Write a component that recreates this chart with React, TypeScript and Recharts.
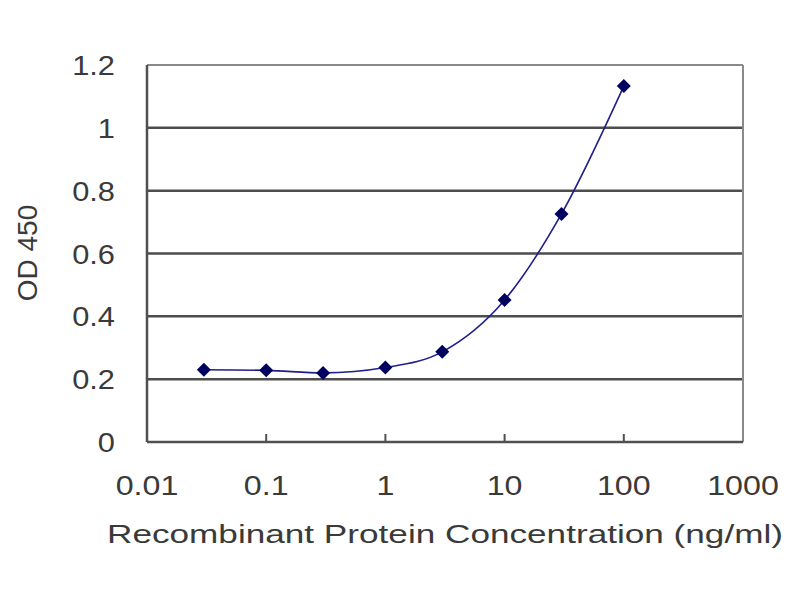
// ELISA standard curve: OD 450 against recombinant protein concentration,
// log-scaled x axis, smooth line with diamond markers.

import { CartesianGrid, Line, LineChart, ReferenceLine, XAxis, YAxis } from 'recharts';

const concentrations = [0.03, 0.1, 0.3, 1, 3, 10, 30, 100];
const od450 = [0.23, 0.228, 0.22, 0.237, 0.287, 0.452, 0.726, 1.133];
const xTicks = [0.01, 0.1, 1, 10, 100, 1000];
const xTickLabels = ['0.01', '0.1', '1', '10', '100', '1000'];
const yTicks = [0, 0.2, 0.4, 0.6, 0.8, 1, 1.2];
const yTickLabels = ['0', '0.2', '0.4', '0.6', '0.8', '1', '1.2'];

const data = concentrations.map((c, i) => ({ conc: c, od: od450[i] }));

const COLORS = {
  text: '#3a3a3a',
  grid: '#4d4d4d',
  border: '#8a8a8a',
  axis: '#505050',
  line: '#1f1f8a',
  marker: '#00005e',
};

const FONT = '"Liberation Sans", Arial, sans-serif';

function XTick({ x, y, payload }: any) {
  const i = xTicks.indexOf(payload.value);
  return (
    <g>
      {i > 0 && i < xTicks.length - 1 && (
        <line x1={x} x2={x} y1={y} y2={y - 8} stroke={COLORS.axis} strokeWidth={2} />
      )}
      <g transform={`translate(${x},${y + 53}) scale(1.15,1)`}>
        <text x={0} y={0} textAnchor="middle" fill={COLORS.text} fontSize={28} fontFamily={FONT}>
          {xTickLabels[i]}
        </text>
      </g>
    </g>
  );
}

function YTick({ x, y, payload }: any) {
  const i = yTicks.indexOf(payload.value);
  return (
    <g transform={`translate(${x - 30},${y + 10}) scale(1.1,1)`}>
      <text x={0} y={0} textAnchor="end" fill={COLORS.text} fontSize={28} fontFamily={FONT}>
        {yTickLabels[i]}
      </text>
    </g>
  );
}

function Diamond({ cx, cy }: any) {
  if (cx == null || cy == null) return null;
  return (
    <polygon
      points={`${cx},${cy - 7} ${cx + 7},${cy} ${cx},${cy + 7} ${cx - 7},${cy}`}
      fill={COLORS.marker}
    />
  );
}

export default function App() {
  return (
    <div style={{ position: 'absolute', left: 0, top: 0, width: 800, height: 600, background: '#fff' }}>
      <LineChart
        width={800}
        height={600}
        data={data}
        margin={{ top: 65, right: 57, bottom: 58, left: 47 }}
      >
        <CartesianGrid
          vertical={false}
          horizontalValues={[0.2, 0.4, 0.6, 0.8, 1]}
          stroke={COLORS.grid}
          strokeWidth={2.5}
        />
        <ReferenceLine y={1.2} stroke={COLORS.border} strokeWidth={2} />
        <ReferenceLine x={1000} stroke={COLORS.border} strokeWidth={2} />
        <XAxis
          dataKey="conc"
          type="number"
          scale="log"
          domain={[0.01, 1000]}
          ticks={xTicks}
          allowDataOverflow
          height={100}
          tickSize={0}
          tickMargin={0}
          tickLine={false}
          axisLine={{ stroke: COLORS.axis, strokeWidth: 2.5 }}
          tick={<XTick />}
          interval={0}
          label={{
            content: () => (
              <text
                x={445}
                y={543}
                textAnchor="middle"
                textLength={676}
                lengthAdjust="spacingAndGlyphs"
                fill={COLORS.text}
                fontSize={26}
                fontFamily={FONT}
              >
                Recombinant Protein Concentration (ng/ml)
              </text>
            ),
          }}
        />
        <YAxis
          type="number"
          domain={[0, 1.2]}
          ticks={yTicks}
          width={100}
          tickSize={0}
          tickLine={false}
          axisLine={{ stroke: COLORS.axis, strokeWidth: 2.5 }}
          tick={<YTick />}
          interval={0}
          label={{
            content: () => (
              <text
                x={27}
                y={253}
                transform="rotate(-90 27 253)"
                textAnchor="middle"
                dominantBaseline="central"
                fill={COLORS.text}
                fontSize={28}
                fontFamily={FONT}
              >
                OD 450
              </text>
            ),
          }}
        />
        <Line
          type="monotone"
          dataKey="od"
          stroke={COLORS.line}
          strokeWidth={1.6}
          dot={<Diamond />}
          activeDot={false}
          isAnimationActive={false}
        />
      </LineChart>
    </div>
  );
}
